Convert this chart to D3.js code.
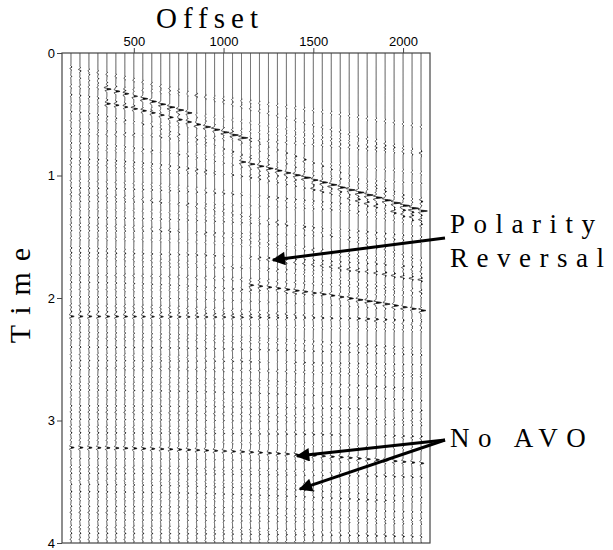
<!DOCTYPE html>
<html>
<head>
<meta charset="utf-8">
<script src="https://cdn.jsdelivr.net/npm/d3@7"></script>
<style>
  body { margin: 0; background: #fff; }
  svg { display: block; }
</style>
</head>
<body>
<svg id="chart" width="613" height="550"></svg>
<script>
// ---- Data ---------------------------------------------------------------
// Receiver offsets (m), one wiggle trace each
const offsets = [150, 200, 250, 300, 350, 400, 450, 500, 550, 600,
                 650, 700, 750, 800, 850, 900, 950, 1000, 1050, 1100,
                 1150, 1200, 1250, 1300, 1350, 1400, 1450, 1500, 1550, 1600,
                 1650, 1700, 1750, 1800, 1850, 1900, 1950, 2000, 2050, 2100];

// Main reflections: zero-offset time (s), stacking velocity (m/s),
// amplitude at near / far offset, and the offset range where they are recorded
const eventT0      = [0.225, 0.37, 0.68, 0.75, 1.59, 1.80, 2.15, 3.22, 3.52];
const eventVel     = [1840,  1880, 1916, 1850, 2220, 1936, 6000, 2280, 2400];
const eventAmpNear = [1.0,   0.8,  0.6, -0.4,  0.3,  0.4,  0.9,  0.9,  0.25];
const eventAmpFar  = [2.2,   2.0,  1.9, -0.7, -0.9,  1.4,  0.25, 0.9,  0.25];
const eventMinOff  = [350,   350,  1100, 1500, 150,  1150, 150,  150,  150];
const eventMaxOff  = [800,   1100, 2100, 2100, 2100, 2100, 2100, 2100, 2100];

// Weak background reflectivity: zero-offset time (s), amplitude, velocity (m/s)
const bgT0  = [0.06, 0.11, 0.17, 0.27, 0.33, 0.41, 0.47, 0.55, 0.61, 0.66,
               0.73, 0.79, 0.86, 0.91, 0.97, 1.04, 1.10, 1.15, 1.21, 1.27,
               1.34, 1.40, 1.45, 1.51, 1.63, 1.67, 1.74, 1.81, 1.87, 1.93,
               1.99, 2.06, 2.11, 2.22, 2.28, 2.33, 2.40, 2.46, 2.51, 2.57,
               2.64, 2.70, 2.75, 2.81, 2.88, 2.93, 2.99, 3.05, 3.10, 3.16,
               3.31, 3.38, 3.43, 3.49, 3.58, 3.64, 3.70, 3.75, 3.81, 3.87,
               3.92, 3.97];
const bgAmp = [0.22, -0.3, 0.18, -0.25, 0.3, -0.18, 0.26, -0.22, 0.16, -0.3,
               0.24, -0.2, 0.3, -0.26, 0.18, -0.22, 0.28, -0.3, 0.2, -0.18,
               0.26, -0.28, 0.22, -0.2, 0.3, -0.24, 0.18, -0.3, 0.26, -0.2,
               0.22, -0.28, 0.3, -0.22, 0.18, -0.26, 0.3, -0.2, 0.24, -0.3,
               0.2, -0.22, 0.28, -0.18, 0.26, -0.3, 0.22, -0.24, 0.3, -0.2,
               0.18, -0.28, 0.26, -0.22, 0.3, -0.2, 0.24, -0.3, 0.18, -0.26,
               0.28, -0.22];
const bgVel = [1500, 2600, 1700, 3900, 1800, 2900, 1600, 3500, 2000, 4300,
               1900, 3600, 2100, 2700, 4800, 2200, 3000, 1700, 3800, 2400,
               3100, 1900, 4200, 2700, 3300, 2100, 4400, 2900, 2300, 4600,
               3000, 2500, 3500, 4800, 2600, 3200, 3700, 2300, 5000, 3400,
               2800, 4100, 3000, 2500, 4500, 3200, 3800, 2700, 4900, 3100,
               3600, 2900, 4300, 3300, 2600, 4700, 3500, 3000, 4000, 2800,
               4400, 3600];

// Axis ticks
const offsetTicks = [500, 1000, 1500, 2000];
const timeTicks = [0, 1, 2, 3, 4];

// Annotations: arrow tips in (offset, time)
const polarityTip = [1275, 1.69];
const noAvoTips = [[1410, 3.29], [1425, 3.56]];

// ---- Layout -------------------------------------------------------------
const svg = d3.select("#chart");
const x = d3.scaleLinear().domain([100, 2150]).range([62, 430]);
const y = d3.scaleLinear().domain([0, 4]).range([53, 543]);

const freq = 30;          // wavelet peak frequency (Hz)
const dt = 0.002;         // trace sample interval (s)
const gain = 3.6;         // px of deflection per unit amplitude
const clipPx = 7;

function ricker(tau) {
  const a = Math.PI * Math.PI * freq * freq * tau * tau;
  return (1 - 2 * a) * Math.exp(-a);
}

function eventAmp(i, off) {
  if (off < eventMinOff[i] || off > eventMaxOff[i]) return 0;
  const f = (off - offsets[0]) / (offsets[offsets.length - 1] - offsets[0]);
  return eventAmpNear[i] + (eventAmpFar[i] - eventAmpNear[i]) * f;
}

const times = d3.range(0, 4 + dt / 2, dt);

function traceSamples(off) {
  const arrivals = [];
  eventT0.forEach((t0, i) => {
    const a = eventAmp(i, off);
    if (a !== 0) arrivals.push([Math.sqrt(t0 * t0 + (off / eventVel[i]) ** 2), a]);
  });
  bgT0.forEach((t0, i) => {
    arrivals.push([Math.sqrt(t0 * t0 + (off / bgVel[i]) ** 2), bgAmp[i]]);
  });
  return times.map(t => {
    let s = 0;
    for (const [ta, a] of arrivals) {
      const tau = t - ta;
      if (Math.abs(tau) < 0.06) s += a * ricker(tau);
    }
    const d = Math.max(-clipPx, Math.min(clipPx, s * gain));
    return { t, d };
  });
}

// ---- Traces ---------------------------------------------------------------
svg.append("rect").attr("width", 613).attr("height", 550).attr("fill", "#fff");

svg.append("clipPath").attr("id", "plotClip")
  .append("rect").attr("x", 62).attr("y", 53).attr("width", 368).attr("height", 490);

const traceG = svg.append("g").attr("clip-path", "url(#plotClip)");

offsets.forEach(off => {
  const samples = traceSamples(off);
  const x0 = x(off);
  // variable-area fill on the positive lobes
  traceG.append("path")
    .datum(samples)
    .attr("fill", "#000")
    .attr("d", d3.area()
      .y(p => y(p.t))
      .x0(x0)
      .x1(p => x0 + Math.max(0, p.d)));
  // wiggle line
  traceG.append("path")
    .datum(samples)
    .attr("fill", "none")
    .attr("stroke", "#111")
    .attr("stroke-width", 0.75)
    .attr("d", d3.line().y(p => y(p.t)).x(p => x0 + p.d));
});

// ---- Frame and axes -------------------------------------------------------
svg.append("rect")
  .attr("x", 62).attr("y", 53).attr("width", 368).attr("height", 490)
  .attr("fill", "none").attr("stroke", "#444").attr("stroke-width", 1.2);

const axisFont = "'Liberation Sans', Arial, sans-serif";

const xAxis = svg.append("g")
  .attr("transform", `translate(0,${y(0)})`)
  .call(d3.axisTop(x).tickValues(offsetTicks).tickSize(5).tickPadding(2).tickFormat(d3.format("d")));
const yAxis = svg.append("g")
  .attr("transform", `translate(${x.range()[0]},0)`)
  .call(d3.axisLeft(y).tickValues(timeTicks).tickSize(5).tickPadding(2).tickFormat(d3.format("d")));

[xAxis, yAxis].forEach(g => {
  g.select(".domain").remove();
  g.selectAll(".tick line").attr("stroke", "#444");
  g.selectAll(".tick text").attr("font-family", axisFont).attr("font-size", 13).attr("fill", "#000");
});

// ---- Titles -------------------------------------------------------------
const serif = "'Liberation Serif', 'Times New Roman', serif";

svg.append("text")
  .attr("x", 210).attr("y", 28)
  .attr("text-anchor", "middle")
  .attr("font-family", serif).attr("font-size", 29)
  .attr("letter-spacing", 6)
  .text("Offset");

svg.append("text")
  .attr("transform", "translate(30,290) rotate(-90)")
  .attr("text-anchor", "middle")
  .attr("font-family", serif).attr("font-size", 30)
  .attr("letter-spacing", 11)
  .text("Time");

// ---- Annotations --------------------------------------------------------
const labelG = svg.append("g").attr("font-family", serif).attr("font-size", 27).attr("fill", "#000");
labelG.append("text").attr("x", 450).attr("y", 233).attr("letter-spacing", 8.5).text("Polarity");
labelG.append("text").attr("x", 450).attr("y", 267).attr("letter-spacing", 8.5).text("Reversal");
labelG.append("text").attr("x", 450).attr("y", 447).attr("letter-spacing", 8.5).text("No AVO");

svg.append("defs").append("marker")
  .attr("id", "head")
  .attr("viewBox", "0 0 10 10")
  .attr("refX", 9).attr("refY", 5)
  .attr("markerWidth", 5).attr("markerHeight", 4.5)
  .attr("markerUnits", "strokeWidth")
  .attr("orient", "auto")
  .append("path").attr("d", "M0,0 L10,5 L0,10 Z").attr("fill", "#000");

const arrows = [
  { from: [445, 238], to: polarityTip },
  { from: [445, 440], to: noAvoTips[0] },
  { from: [445, 440], to: noAvoTips[1] }
];
svg.append("g").selectAll("line").data(arrows).join("line")
  .attr("x1", d => d.from[0]).attr("y1", d => d.from[1])
  .attr("x2", d => x(d.to[0])).attr("y2", d => y(d.to[1]))
  .attr("stroke", "#000").attr("stroke-width", 3)
  .attr("marker-end", "url(#head)");
</script>
</body>
</html>
